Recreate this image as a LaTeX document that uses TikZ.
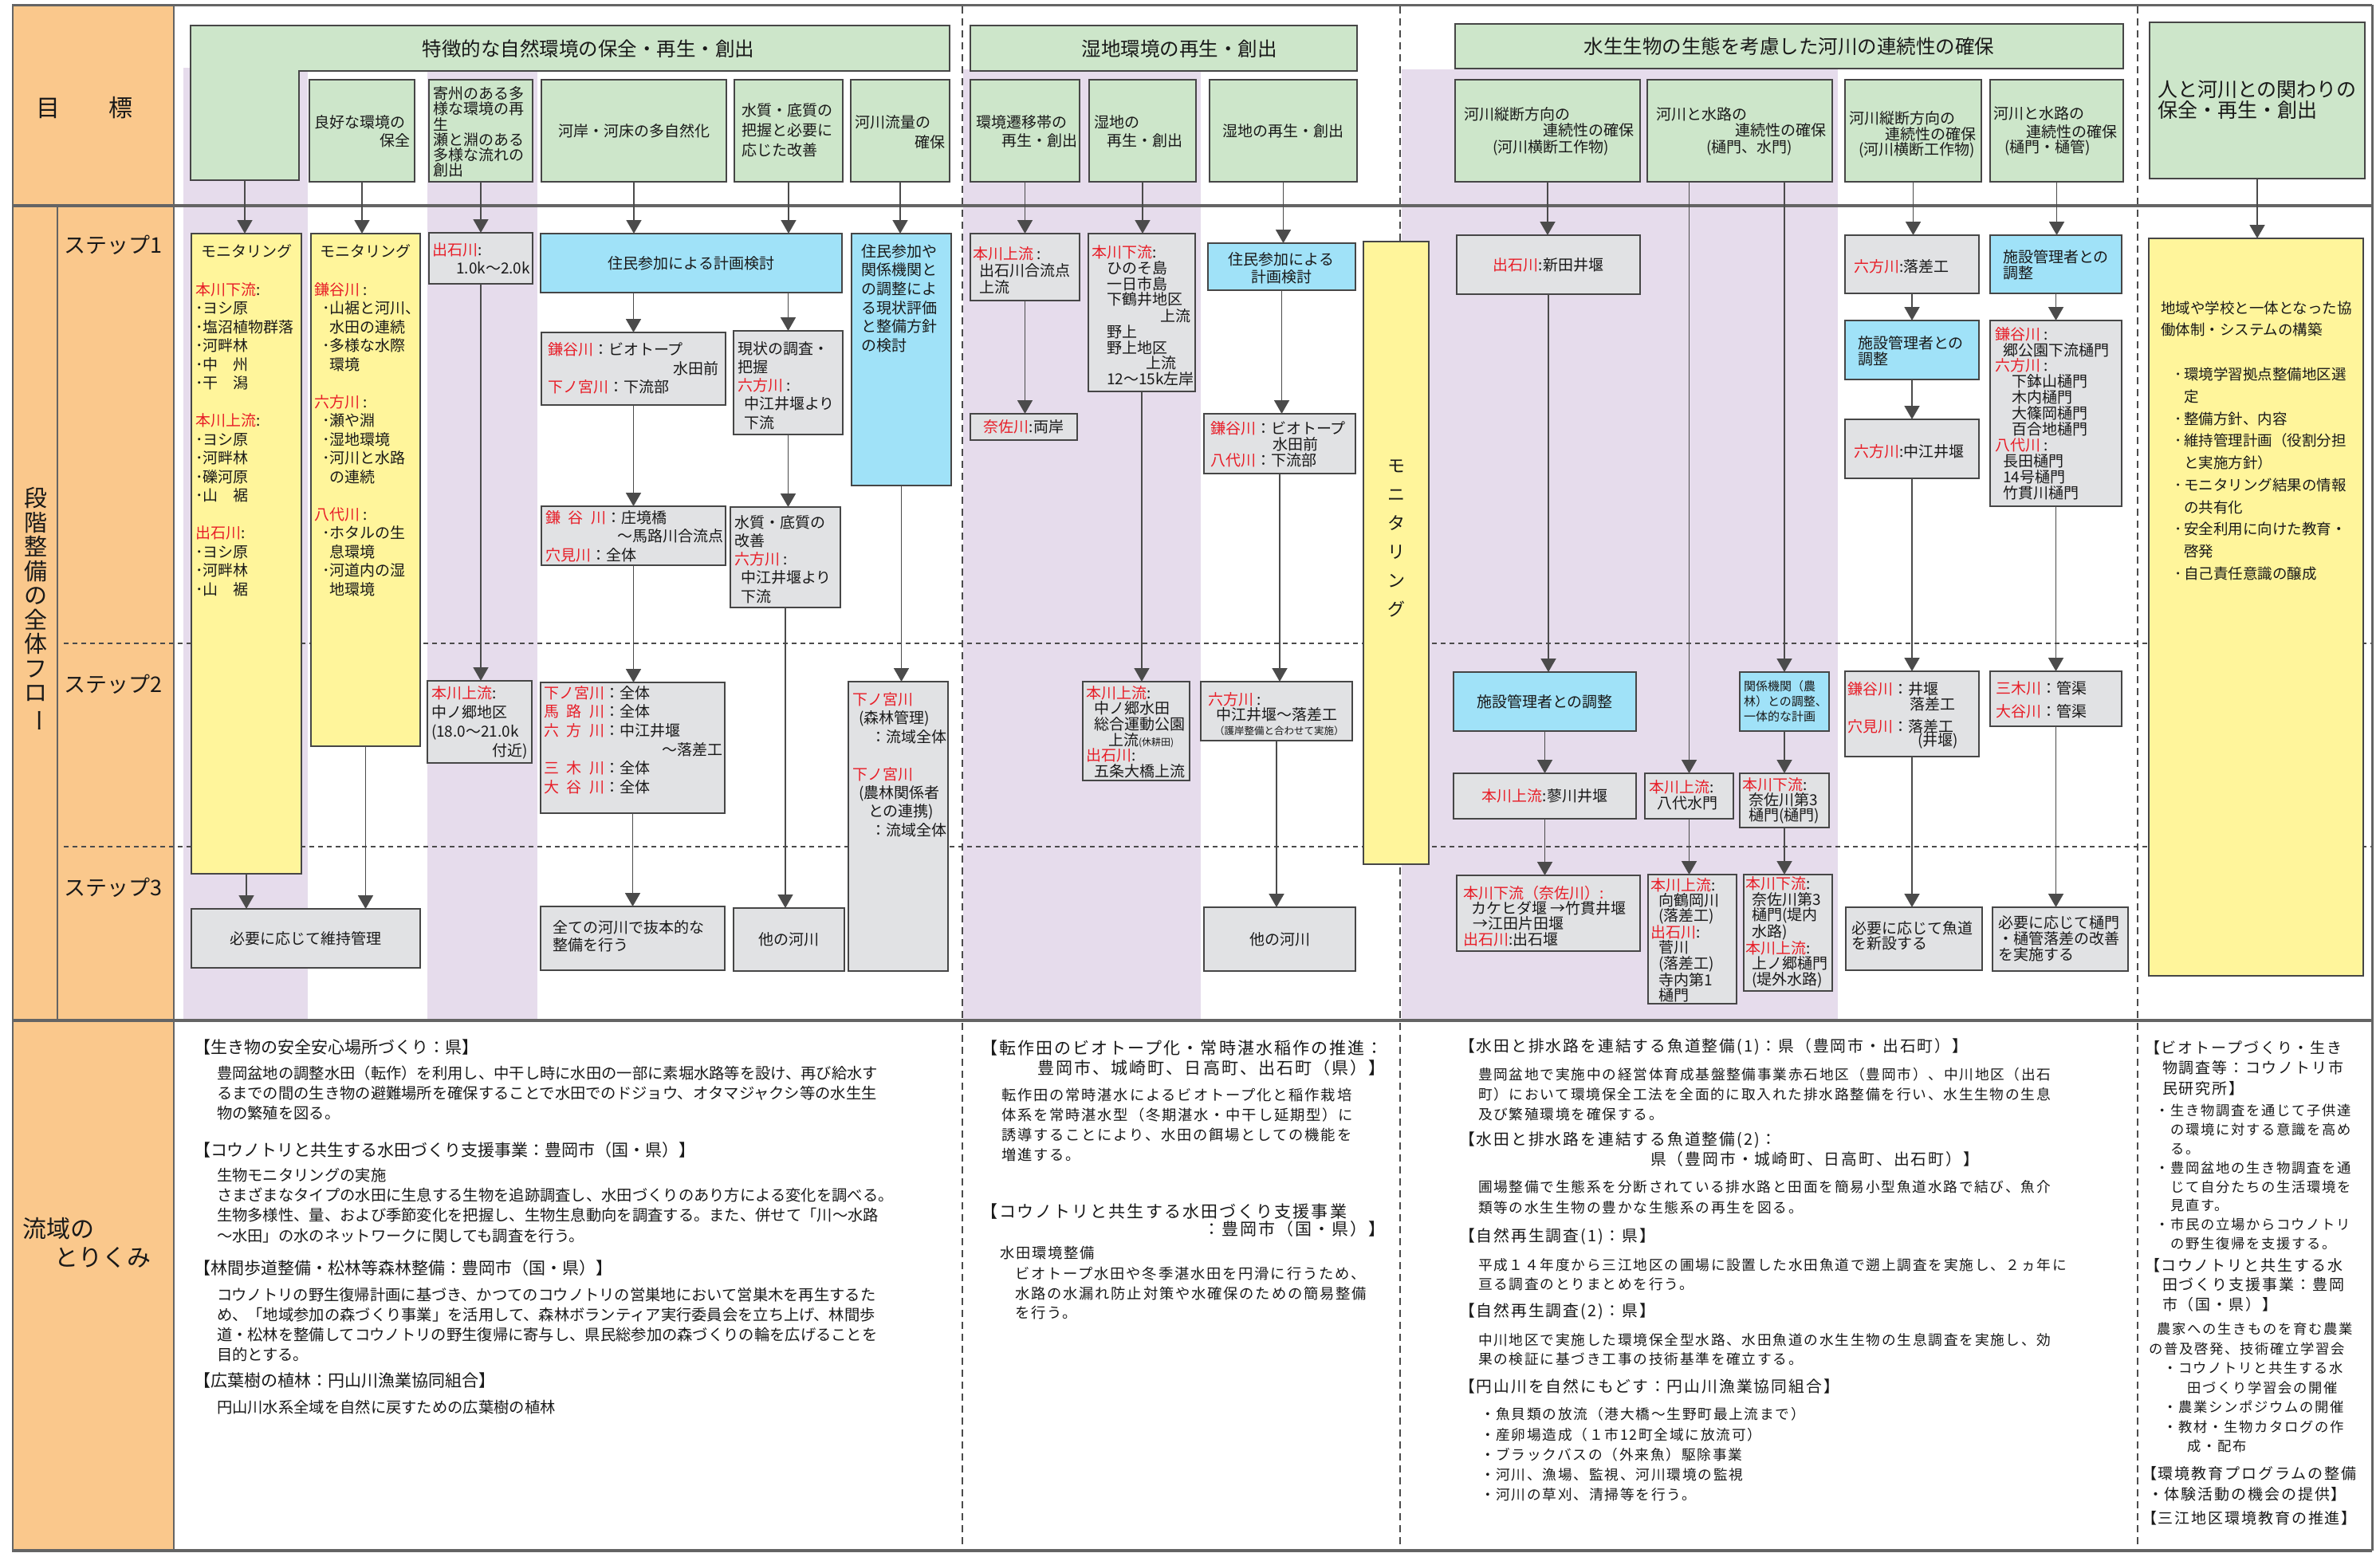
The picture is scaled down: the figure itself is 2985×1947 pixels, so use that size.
\documentclass[tikz,border=0pt]{standalone}
\usepackage{fontspec}
\usepackage{graphicx}
\setmainfont{Noto Sans CJK JP}
\newfontfamily\cjksp[LetterSpace=10]{Noto Sans CJK JP}
\usetikzlibrary{arrows.meta}
\definecolor{cOr}{RGB}{250,200,140}
\definecolor{cGr}{RGB}{205,230,202}
\definecolor{cLv}{RGB}{230,220,236}
\definecolor{cGy}{RGB}{225,226,228}
\definecolor{cBl}{RGB}{160,226,248}
\definecolor{cYe}{RGB}{255,245,155}
\definecolor{cRd}{RGB}{232,30,40}
\definecolor{cAr}{RGB}{75,75,75}
\definecolor{cFr}{RGB}{100,100,100}
\definecolor{cLn}{RGB}{70,70,70}
\definecolor{cTx}{RGB}{25,25,25}
\newcommand\fs[2]{\fontsize{#1}{#2}\selectfont}
\newcommand\R[1]{\textcolor{cRd}{#1}}
\newcommand\SP[2]{\makebox[#1][s]{#2}}
\newcommand\B[7]{\node[#1,minimum width={#5-#3},minimum height={#6-#4}] (#2) at ({(#3+#5)/2},{(#4+#6)/2}) {#7};}
\newcommand\TL[5]{\node[txt,anchor=west,align=left,font=#4] (#1) at (#2,#3) {#5};}
\newcommand\TR[5]{\node[txt,anchor=east,align=right,font=#4] (#1) at (#2,#3) {#5};}
\newcommand\TC[5]{\node[txt,align=center,font=#4] (#1) at (#2,#3) {#5};}
\begin{document}
\begin{tikzpicture}[x=1pt,y=-1pt,
  txt/.style={inner sep=0pt,outer sep=0pt,text=cTx},
  box/.style={draw=cLn,line width=1.8pt,inner sep=0pt,outer sep=0pt,text=cTx,align=center,font=\fs{19}{23}},
  gbox/.style={box,fill=cGy},
  bbox/.style={box,fill=cBl},
  ybox/.style={box,fill=cYe},
  hbox/.style={box,fill=cGr},
  conn/.style={draw=cAr,line width=1.8pt,-{Triangle[width=19pt,length=17pt]}},
  sep/.style={draw=cFr,line width=3.5pt},
  dashv/.style={draw=cAr,line width=2pt,dash pattern=on 9pt off 6pt},
  doth/.style={draw=cAr,line width=2.5pt,dash pattern=on 6pt off 5pt}]
\fill[white] (0,0) rectangle (2985,1947);
\useasboundingbox (0,0) rectangle (2985,1947);
% backgrounds
\fill[cOr] (17,8) rectangle (218,1945);
\fill[cLv] (230,85) rectangle (386,1280);
\fill[cLv] (536,89) rectangle (674,1280);
\fill[cLv] (1208,87) rectangle (1506,1280);
\fill[cLv] (1758,87) rectangle (2305,1280);
% separators
\draw[doth] (80,807) -- (2975,807);
\draw[doth] (80,1062) -- (2975,1062);
\draw[dashv] (1207,8) -- (1207,1945);
\draw[dashv] (1756,8) -- (1756,1945);
\draw[dashv] (2681,8) -- (2681,1945);
\draw[sep] (15,6.5) -- (2975,6.5);
\draw[sep] (15,258) -- (2975,258);
\draw[sep] (15,1280) -- (2975,1280);
\draw[sep] (15,1945) -- (2975,1945);
\draw[cFr,line width=2.5pt] (16,6) -- (16,1945);
\draw[cFr,line width=3pt] (2975,6) -- (2975,1945);
\draw[cFr,line width=2pt] (218,6) -- (218,1945);
\draw[cFr,line width=2pt] (72,258) -- (72,1280);
% left labels
\node[txt,font=\fs{30}{34}] (mokuhyo) at (106,135) {目\hspace{61pt}標};
\node[txt,anchor=west,font=\fs{27}{30}] (st1) at (80,307) {ステップ1};
\node[txt,anchor=west,font=\fs{27}{30}] (st2) at (80,858) {ステップ2};
\node[txt,anchor=west,font=\fs{27}{30}] (st3) at (80,1113) {ステップ3};
\node[txt,align=center,font=\fs{29}{30.5}] (vflow) at (45,765) {段\\階\\整\\備\\の\\全\\体\\フ\\ロ\\\rotatebox[origin=c]{-90}{ー}};
\node[txt,font=\fs{30}{34}] (ryu1) at (73,1541) {流域の};
\node[txt,font=\fs{30}{34}] (ryu2) at (129,1577) {とりくみ};
% ===== header =====
\draw[fill=cGr,draw=cLn,line width=1.8pt] (239,32) -- (1191,32) -- (1191,89) -- (375,89) -- (375,226) -- (239,226) -- cycle;
\node[txt,font=\fs{24.5}{28}] (hLt) at (738,61) {特徴的な自然環境の保全・再生・創出};
\node[inner sep=0pt,outer sep=0pt,minimum width=136,minimum height=137] (hleg) at (307,157.5) {};
\B{hbox}{h1}{388}{100}{520}{228}{}
\TL{h1a}{394}{153}{\fs{19}{23}}{良好な環境の}
\TR{h1b}{514}{176}{\fs{19}{23}}{保全}
\B{hbox}{h2}{538}{100}{668}{228}{}
\TL{h2a}{543}{165.5}{\fs{19}{19.2}}{寄州のある多\\様な環境の再\\生\\瀬と淵のある\\多様な流れの\\創出}
\B{hbox}{h3}{679}{100}{911}{228}{河岸・河床の多自然化}
\B{hbox}{h4}{921}{100}{1057}{228}{}
\TL{h4a}{930}{163}{\fs{19}{25}}{水質・底質の\\把握と必要に\\応じた改善}
\B{hbox}{h5}{1067}{100}{1191}{228}{}
\TL{h5a}{1072}{153}{\fs{19}{23}}{河川流量の}
\TR{h5b}{1185}{178}{\fs{19}{23}}{確保}
\B{hbox}{hW}{1217}{32}{1702}{89}{}
\node[txt,font=\fs{24.5}{28}] (hWt) at (1479,61) {湿地環境の再生・創出};
\B{hbox}{h6}{1217}{100}{1354}{228}{}
\TL{h6a}{1224}{153}{\fs{19}{23}}{環境遷移帯の}
\TR{h6b}{1351}{176}{\fs{19}{23}}{再生・創出}
\B{hbox}{h7}{1366}{100}{1500}{228}{}
\TL{h7a}{1372}{153}{\fs{19}{23}}{湿地の}
\TL{h7b}{1388}{176}{\fs{19}{23}}{再生・創出}
\B{hbox}{h8}{1517}{100}{1702}{228}{湿地の再生・創出}
\B{hbox}{hA}{1825}{30}{2663}{86}{\fs{24.5}{28}水生生物の生態を考慮した河川の連続性の確保}
\B{hbox}{h9}{1825}{100}{2057}{228}{}
\TL{h9a}{1836}{143}{\fs{19}{23}}{河川縦断方向の}
\TR{h9b}{2049}{163}{\fs{19}{23}}{連続性の確保}
\TC{h9c}{1945}{185}{\fs{19}{23}}{(河川横断工作物)}
\B{hbox}{h10}{2066}{100}{2298}{228}{}
\TL{h10a}{2077}{143}{\fs{19}{23}}{河川と水路の}
\TR{h10b}{2290}{163}{\fs{19}{23}}{連続性の確保}
\TC{h10c}{2194}{185}{\fs{19}{23}}{(樋門、水門)}
\B{hbox}{h11}{2314}{100}{2485}{228}{}
\TL{h11a}{2319}{148}{\fs{19}{23}}{河川縦断方向の}
\TR{h11b}{2478}{168}{\fs{19}{23}}{連続性の確保}
\TC{h11c}{2404}{188}{\fs{19}{23}}{(河川横断工作物)}
\B{hbox}{h12}{2496}{100}{2663}{228}{}
\TL{h12a}{2500}{142}{\fs{19}{23}}{河川と水路の}
\TR{h12b}{2655}{165}{\fs{19}{23}}{連続性の確保}
\TC{h12c}{2568}{185}{\fs{19}{23}}{(樋門・樋管)}
\B{hbox}{h13}{2696}{28}{2966}{224}{}
\TL{h13a}{2706}{125}{\fs{25}{26}}{人と河川との関わりの\\保全・再生・創出}
% ===== step boxes =====
\B{ybox}{y1}{240}{293}{378}{1096}{}
\TC{y1t}{309}{315}{\fs{19}{23}}{モニタリング}
\TL{y1a}{245}{551}{\fs{19}{23.5}}{\R{本川下流}:\\･ヨシ原\\･塩沼植物群落\\･河畔林\\･中　州\\･干　潟\\[23.5pt]\R{本川上流}:\\･ヨシ原\\･河畔林\\･礫河原\\･山　裾\\[23.5pt]\R{出石川}:\\･ヨシ原\\･河畔林\\･山　裾}
\B{ybox}{y2}{390}{293}{527}{936}{}
\TC{y2t}{458}{315}{\fs{19}{23}}{モニタリング}
\TL{y2a}{394}{551}{\fs{19}{23.5}}{\R{鎌谷川} :\\\hspace*{10pt}･山裾と河川、\\\hspace*{19.5pt}水田の連続\\\hspace*{10pt}･多様な水際\\\hspace*{19.5pt}環境\\[23.5pt]\R{六方川} :\\\hspace*{10pt}･瀬や淵\\\hspace*{10pt}･湿地環境\\\hspace*{10pt}･河川と水路\\\hspace*{19.5pt}の連続\\[23.5pt]\R{八代川} :\\\hspace*{10pt}･ホタルの生\\\hspace*{19.5pt}息環境\\\hspace*{10pt}･河道内の湿\\\hspace*{19.5pt}地環境}
\B{gbox}{s1c}{538}{292}{668}{356}{}
\TL{s1ca}{542}{313}{\fs{19}{23}}{\R{出石川}:}
\TR{s1cb}{665}{336}{\fs{19}{23}}{1.0k～2.0k}
\B{bbox}{s1b}{678}{293}{1056}{367}{住民参加による計画検討}
\B{bbox}{s1d}{1068}{293}{1193}{609}{}
\TL{s1da}{1080}{374}{\fs{19}{23.6}}{住民参加や\\関係機関と\\の調整によ\\る現状評価\\と整備方針\\の検討}
\B{gbox}{s1e}{679}{417}{910}{508}{}
\TL{s1ea}{687}{438}{\fs{19}{23}}{\R{鎌谷川}：ビオトープ}
\TR{s1eb}{901}{462}{\fs{19}{23}}{水田前}
\TL{s1ec}{687}{485}{\fs{19}{23}}{\R{下ノ宮川}：下流部}
\B{gbox}{s1f}{920}{415}{1057}{545}{}
\TL{s1fa}{925}{483.5}{\fs{19}{23.25}}{現状の調査・\\把握\\\R{六方川} :\\\hspace*{8pt}中江井堰より\\\hspace*{8pt}下流}
\B{gbox}{s1g}{679}{635}{910}{709}{}
\TL{s1ga}{684}{649}{\fs{19}{23}}{\R{\SP{76pt}{鎌\hfill 谷\hfill 川}}：庄境橋}
\TR{s1gb}{907}{672}{\fs{19}{23}}{～馬路川合流点}
\TL{s1gc}{684}{696}{\fs{19}{23}}{\R{穴見川}：全体}
\B{gbox}{s1h}{916}{636}{1054}{762}{}
\TL{s1ha}{921}{701.5}{\fs{19}{23.25}}{水質・底質の\\改善\\\R{六方川} :\\\hspace*{8pt}中江井堰より\\\hspace*{8pt}下流}
\B{gbox}{w1}{1217}{293}{1354}{377}{}
\TL{w1a}{1220}{339}{\fs{19}{21}}{\R{本川上流} :\\\hspace*{8pt}出石川合流点\\\hspace*{8pt}上流}
\B{gbox}{w4}{1217}{519}{1351}{552}{\R{奈佐川}:両岸}
\B{gbox}{w2}{1365}{293}{1499}{491}{}
\TL{w2a}{1369}{346}{\fs{19}{19.9}}{\R{本川下流}:\\\hspace*{19pt}ひのそ島\\\hspace*{19pt}一日市島\\\hspace*{19pt}下鶴井地区}
\TR{w2b}{1493}{396}{\fs{19}{19.9}}{上流}
\TL{w2c}{1388}{426}{\fs{19}{19.9}}{野上\\野上地区}
\TR{w2d}{1475}{455}{\fs{19}{19.9}}{上流}
\TL{w2e}{1388}{475}{\fs{19}{19.9}}{12～15k左岸}
\B{bbox}{w3}{1515}{305}{1700}{364}{}
\TC{w3a}{1607}{336}{\fs{19}{22}}{住民参加による\\計画検討}
\B{gbox}{w5}{1510}{519}{1700}{594}{}
\TL{w5a}{1518}{537}{\fs{19}{23}}{\R{鎌谷川}：ビオトープ}
\TL{w5b}{1596}{557}{\fs{19}{23}}{水田前}
\TL{w5c}{1518}{577}{\fs{19}{23}}{\R{八代川}：下流部}
\B{ybox}{mon}{1710}{303}{1792}{1084}{}
\TC{mont}{1751}{675}{\fs{22}{36}}{モ\\ニ\\タ\\リ\\ン\\グ}
\B{gbox}{r1}{1827}{295}{2057}{369}{\R{出石川}:新田井堰}
\B{gbox}{r2}{2314}{295}{2482}{368}{}
\TL{r2a}{2325}{334}{\fs{19}{23}}{\R{六方川}:落差工}
\B{bbox}{r3}{2496}{295}{2661}{368}{}
\TL{r3a}{2512}{332}{\fs{19}{20}}{施設管理者との\\調整}
\B{bbox}{r4}{2314}{402}{2482}{476}{}
\TL{r4a}{2330}{440}{\fs{19}{20}}{施設管理者との\\調整}
\B{gbox}{r5}{2314}{526}{2482}{600}{}
\TL{r5a}{2325}{566}{\fs{19}{23}}{\R{六方川}:中江井堰}
\B{gbox}{r6}{2496}{402}{2661}{635}{}
\TL{r6a}{2502}{518.5}{\fs{19}{19.9}}{\R{鎌谷川} :\\\hspace*{10pt}郷公園下流樋門\\\R{六方川} :\\\hspace*{21pt}下鉢山樋門\\\hspace*{21pt}木内樋門\\\hspace*{21pt}大篠岡樋門\\\hspace*{21pt}百合地樋門\\\R{八代川} :\\\hspace*{10pt}長田樋門\\\hspace*{10pt}14号樋門\\\hspace*{10pt}竹貫川樋門}
\B{ybox}{yR}{2695}{299}{2964}{1224}{}
\TL{yRa}{2710}{399.5}{\fs{18.5}{27}}{地域や学校と一体となった協\\働体制・システムの構築}
\TL{yRb}{2727}{594.5}{\fs{18.5}{27.7}}{･\hspace{3pt}環境学習拠点整備地区選\\\hspace*{12pt}定\\･\hspace{3pt}整備方針、内容\\･\hspace{3pt}維持管理計画（役割分担\\\hspace*{12pt}と実施方針）\\･\hspace{3pt}モニタリング結果の情報\\\hspace*{12pt}の共有化\\･\hspace{3pt}安全利用に向けた教育・\\\hspace*{12pt}啓発\\･\hspace{3pt}自己責任意識の醸成}
% step 2
\B{gbox}{s2a}{536}{854}{667}{957}{}
\TL{s2aa}{541}{894}{\fs{19}{24}}{\R{本川上流}:\\中ノ郷地区\\(18.0～21.0k}
\TR{s2ab}{662}{942}{\fs{19}{24}}{付近)}
\B{gbox}{s2b}{678}{856}{909}{1020}{}
\TL{s2ba}{682}{892.5}{\fs{19}{23.5}}{\R{下ノ宮川}：全体\\\R{\SP{76pt}{馬\hfill 路\hfill 川}}：全体\\\R{\SP{76pt}{六\hfill 方\hfill 川}}：中江井堰}
\TR{s2bb}{906}{940}{\fs{19}{23}}{～落差工}
\TL{s2bc}{682}{975}{\fs{19}{24}}{\R{\SP{76pt}{三\hfill 木\hfill 川}}：全体\\\R{\SP{76pt}{大\hfill 谷\hfill 川}}：全体}
\B{gbox}{s2c}{1064}{855}{1189}{1218}{}
\TL{s2ca}{1069}{900.5}{\fs{19}{23.5}}{\R{下ノ宮川}\\\hspace*{8pt}(森林管理)\\\hspace*{23pt}：流域全体}
\TL{s2cb}{1069}{1006}{\fs{19}{23.3}}{\R{下ノ宮川}\\\hspace*{8pt}(農林関係者\\\hspace*{20pt}との連携)\\\hspace*{23pt}：流域全体}
\B{gbox}{s2d}{1358}{855}{1492}{979}{}
\TL{s2da}{1362}{918}{\fs{19}{19.6}}{\R{本川上流}:\\\hspace*{10pt}中ノ郷水田\\\hspace*{10pt}総合運動公園\\\hspace*{28pt}上流{\fs{12}{12}(休耕田)}\\\R{出石川}:\\\hspace*{10pt}五条大橋上流}
\B{gbox}{s2e}{1506}{855}{1696}{929}{}
\TL{s2ea}{1515}{877}{\fs{19}{20}}{\R{六方川} :}
\TL{s2eb}{1525}{896}{\fs{19}{20}}{中江井堰～落差工}
\TL{s2ec}{1523}{917}{\fs{12.5}{14}}{（護岸整備と合わせて実施）}
\B{bbox}{s2f}{1823}{843}{2052}{917}{施設管理者との調整}
\B{gbox}{s2g}{1823}{970}{2052}{1027}{\R{本川上流}:蓼川井堰}
\B{bbox}{s2i}{2182}{843}{2294}{917}{}
\TL{s2ia}{2187}{880}{\fs{15}{19}}{関係機関（農\\林）との調整、\\一体的な計画}
\B{gbox}{s2h}{2063}{970}{2174}{1027}{}
\TL{s2ha}{2068}{997}{\fs{19}{20}}{\R{本川上流}:\\\hspace*{10pt}八代水門}
\B{gbox}{s2j}{2182}{970}{2294}{1038}{}
\TL{s2ja}{2185}{1004}{\fs{19}{19}}{\R{本川下流}:\\\hspace*{8pt}奈佐川第3\\\hspace*{8pt}樋門(樋門)}
\B{gbox}{s2k}{2314}{842}{2482}{949}{}
\TL{s2ka}{2317}{864}{\fs{19}{23}}{\R{鎌谷川}：井堰}
\TL{s2kb}{2395}{883}{\fs{19}{23}}{落差工}
\TL{s2kc}{2317}{911}{\fs{19}{23}}{\R{穴見川}：落差工}
\TL{s2kd}{2405}{929}{\fs{19}{23}}{(井堰)}
\B{gbox}{s2l}{2496}{842}{2661}{911}{}
\TL{s2la}{2503}{877.5}{\fs{19}{29}}{\R{三木川}：管渠\\\R{大谷川}：管渠}
% step 3
\B{gbox}{p1}{240}{1140}{527}{1214}{必要に応じて維持管理}
\B{gbox}{p2}{678}{1137}{909}{1217}{}
\TL{p2a}{693}{1174}{\fs{19}{22}}{全ての河川で抜本的な\\整備を行う}
\B{gbox}{p3}{920}{1139}{1059}{1218}{他の河川}
\B{gbox}{p4}{1510}{1138}{1700}{1218}{他の河川}
\B{gbox}{p5}{1827}{1098}{2057}{1193}{}
\TL{p5a}{1835}{1149}{\fs{19}{19.3}}{\R{本川下流（奈佐川）:}\\\hspace*{10pt}カケヒダ堰 →竹貫井堰\\\hspace*{12pt}→江田片田堰\\\R{出石川}:出石堰}
\B{gbox}{p6}{2067}{1097}{2178}{1259}{}
\TL{p6a}{2070}{1179}{\fs{19}{19.4}}{\R{本川上流}:\\\hspace*{10pt}向鶴岡川\\\hspace*{10pt}(落差工)\\\R{出石川}:\\\hspace*{10pt}菅川\\\hspace*{10pt}(落差工)\\\hspace*{10pt}寺内第1\\\hspace*{10pt}樋門}
\B{gbox}{p7}{2187}{1097}{2298}{1243}{}
\TL{p7a}{2189}{1169.5}{\fs{19}{19.5}}{\R{本川下流}:\\\hspace*{8pt}奈佐川第3\\\hspace*{8pt}樋門(堤内\\\hspace*{8pt}水路)\\\R{本川上流}:\\\hspace*{8pt}上ノ郷樋門\\\hspace*{8pt}(堤外水路)}
\B{gbox}{p8}{2315}{1138}{2486}{1217}{}
\TL{p8a}{2322}{1174}{\fs{19}{18.5}}{必要に応じて魚道\\を新設する}
\B{gbox}{p9}{2499}{1138}{2669}{1218}{}
\TL{p9a}{2506}{1177}{\fs{19}{20}}{必要に応じて樋門\\・樋管落差の改善\\を実施する}
% ===== connectors =====
\draw[conn] (hleg.south) -- (hleg.south |- y1.north);
\draw[conn] (h1.south) -- (h1.south |- y2.north);
\draw[conn] (h2.south) -- (h2.south |- s1c.north);
\draw[conn] (h3.south) -- (h3.south |- s1b.north);
\draw[conn] (h4.south) -- (h4.south |- s1b.north);
\draw[conn] (h5.south) -- (h5.south |- s1d.north);
\draw[conn] (h6.south) -- (h6.south |- w1.north);
\draw[conn] (h7.south) -- (h7.south |- w2.north);
\draw[conn] (h8.south) -- (h8.south |- w3.north);
\draw[conn] (h9.south) -- (h9.south |- r1.north);
\draw[conn] (s2h.north |- h10.south) -- (s2h.north);
\draw[conn] (s2i.north |- h10.south) -- (s2i.north);
\draw[conn] (h11.south) -- (h11.south |- r2.north);
\draw[conn] (h12.south) -- (h12.south |- r3.north);
\draw[conn] (h13.south) -- (h13.south |- yR.north);
\draw[conn] (y1.south) -- (y1.south |- p1.north);
\draw[conn] (y2.south) -- (y2.south |- p1.north);
\draw[conn] (s1c.south) -- (s1c.south |- s2a.north);
\draw[conn] (s1e.north |- s1b.south) -- (s1e.north);
\draw[conn] (s1f.north |- s1b.south) -- (s1f.north);
\draw[conn] (s1e.south) -- (s1g.north);
\draw[conn] (s1f.south) -- (s1f.south |- s1h.north);
\draw[conn] (s1g.south) -- (s1g.south |- s2b.north);
\draw[conn] (s2b.south) -- (p2.north);
\draw[conn] (s1h.south) -- (s1h.south |- p3.north);
\draw[conn] (s1d.south) -- (s1d.south |- s2c.north);
\draw[conn] (w1.south) -- (w1.south |- w4.north);
\draw[conn] (w2.south) -- (w2.south |- s2d.north);
\draw[conn] (w3.south) -- (w3.south |- w5.north);
\draw[conn] (w5.south) -- (w5.south |- s2e.north);
\draw[conn] (s2e.south) -- (s2e.south |- p4.north);
\draw[conn] (r1.south) -- (r1.south |- s2f.north);
\draw[conn] (s2f.south) -- (s2g.north);
\draw[conn] (s2g.south) -- (s2g.south |- p5.north);
\draw[conn] (s2h.south) -- (s2h.south |- p6.north);
\draw[conn] (s2i.south) -- (s2j.north);
\draw[conn] (s2j.south) -- (s2j.south |- p7.north);
\draw[conn] (r2.south) -- (r2.south |- r4.north);
\draw[conn] (r4.south) -- (r4.south |- r5.north);
\draw[conn] (r5.south) -- (r5.south |- s2k.north);
\draw[conn] (s2k.south) -- (s2k.south |- p8.north);
\draw[conn] (r3.south) -- (r3.south |- r6.north);
\draw[conn] (r6.south) -- (r6.south |- s2l.north);
\draw[conn] (s2l.south) -- (s2l.south |- p9.north);
% ===== bottom section =====
\TL{b1}{243}{1313}{\fs{21}{25}}{【生き物の安全安心場所づくり：県】}
\TL{b2}{272}{1371}{\fs{19.3}{25}}{豊岡盆地の調整水田（転作）を利用し、中干し時に水田の一部に素堀水路等を設け、再び給水す\\るまでの間の生き物の避難場所を確保することで水田でのドジョウ、オタマジャクシ等の水生生\\物の繁殖を図る。}
\TL{b3}{243}{1442}{\fs{21}{25}}{【コウノトリと共生する水田づくり支援事業：豊岡市（国・県）】}
\TL{b4}{272}{1512}{\fs{19.3}{25.3}}{生物モニタリングの実施\\さまざまなタイプの水田に生息する生物を追跡調査し、水田づくりのあり方による変化を調べる。\\生物多様性、量、および季節変化を把握し、生物生息動向を調査する。また、併せて「川～水路\\～水田」の水のネットワークに関しても調査を行う。}
\TL{b5}{243}{1590}{\fs{21}{25}}{【林間歩道整備・松林等森林整備：豊岡市（国・県）】}
\TL{b6}{272}{1661.5}{\fs{19.3}{25}}{コウノトリの野生復帰計画に基づき、かつてのコウノトリの営巣地において営巣木を再生するた\\め、「地域参加の森づくり事業」を活用して、森林ボランティア実行委員会を立ち上げ、林間歩\\道・松林を整備してコウノトリの野生復帰に寄与し、県民総参加の森づくりの輪を広げることを\\目的とする。}
\TL{b7}{243}{1732}{\fs{21}{25}}{【広葉樹の植林：円山川漁業協同組合】}
\TL{b8}{272}{1765}{\fs{19.3}{25}}{円山川水系全域を自然に戻すための広葉樹の植林}
\TL{c1}{1230}{1314}{\cjksp\fs{21}{25}}{【転作田のビオトープ化・常時湛水稲作の推進：}
\TR{c2}{1738}{1339}{\cjksp\fs{21}{25}}{豊岡市、城崎町、日高町、出石町（県）】}
\TL{c3}{1256}{1411}{\cjksp\fs{18.3}{25.3}}{転作田の常時湛水によるビオトープ化と稲作栽培\\体系を常時湛水型（冬期湛水・中干し延期型）に\\誘導することにより、水田の餌場としての機能を\\増進する。}
\TL{c4}{1230}{1519}{\cjksp\fs{21}{25}}{【コウノトリと共生する水田づくり支援事業}
\TR{c5}{1738}{1541}{\cjksp\fs{21}{25}}{：豊岡市（国・県）】}
\TL{c6}{1254}{1572}{\cjksp\fs{18.3}{25}}{水田環境整備}
\TL{c7}{1273}{1622.5}{\cjksp\fs{18.3}{24.5}}{ビオトープ水田や冬季湛水田を円滑に行うため、\\水路の水漏れ防止対策や水確保のための簡易整備\\を行う。}
\TL{d1}{1830}{1313}{\cjksp\fs{19.8}{25}}{【水田と排水路を連結する魚道整備(1)：県（豊岡市・出石町）】}
\TL{d2}{1854}{1373}{\cjksp\fs{17.7}{25}}{豊岡盆地で実施中の経営体育成基盤整備事業赤石地区（豊岡市）、中川地区（出石\\町）において環境保全工法を全面的に取入れた排水路整備を行い、水生生物の生息\\及び繁殖環境を確保する。}
\TL{d3}{1830}{1430}{\cjksp\fs{19.8}{25}}{【水田と排水路を連結する魚道整備(2)：}
\TR{d4}{2482}{1454}{\cjksp\fs{19.8}{25}}{県（豊岡市・城崎町、日高町、出石町）】}
\TL{d5}{1854}{1502}{\cjksp\fs{17.7}{26}}{圃場整備で生態系を分断されている排水路と田面を簡易小型魚道水路で結び、魚介\\類等の水生生物の豊かな生態系の再生を図る。}
\TL{d6}{1830}{1551}{\cjksp\fs{19.8}{25}}{【自然再生調査(1)：県】}
\TL{d7}{1854}{1599}{\cjksp\fs{17.7}{24}}{平成１４年度から三江地区の圃場に設置した水田魚道で遡上調査を実施し、２ヵ年に\\亘る調査のとりまとめを行う。}
\TL{d8}{1830}{1645}{\cjksp\fs{19.8}{25}}{【自然再生調査(2)：県】}
\TL{d9}{1854}{1693}{\cjksp\fs{17.7}{24}}{中川地区で実施した環境保全型水路、水田魚道の水生生物の生息調査を実施し、効\\果の検証に基づき工事の技術基準を確立する。}
\TL{d10}{1830}{1739}{\cjksp\fs{19.8}{25}}{【円山川を自然にもどす：円山川漁業協同組合】}
\TL{d11}{1857}{1824.5}{\cjksp\fs{17.7}{25.25}}{・魚貝類の放流（港大橋～生野町最上流まで）\\・産卵場造成（１市12町全域に放流可）\\・ブラックバスの（外来魚）駆除事業\\・河川、漁場、監視、河川環境の監視\\・河川の草刈、清掃等を行う。}
\TL{e1}{2690}{1339.5}{\cjksp\fs{19}{25.5}}{【ビオトープづくり・生き\\\hspace*{22pt}物調査等：コウノトリ市\\\hspace*{22pt}民研究所】}
\TL{e2}{2703}{1476.5}{\cjksp\fs{17.3}{23.9}}{・生き物調査を通じて子供達\\\hspace*{19pt}の環境に対する意識を高め\\\hspace*{19pt}る。\\・豊岡盆地の生き物調査を通\\\hspace*{19pt}じて自分たちの生活環境を\\\hspace*{19pt}見直す。\\・市民の立場からコウノトリ\\\hspace*{19pt}の野生復帰を支援する。}
\TL{e3}{2690}{1611.5}{\cjksp\fs{19}{24.5}}{【コウノトリと共生する水\\\hspace*{22pt}田づくり支援事業：豊岡\\\hspace*{22pt}市（国・県）】}
\TL{e4}{2695}{1740.5}{\cjksp\fs{17.3}{24.5}}{\hspace*{10pt}農家への生きものを育む農業\\の普及啓発、技術確立学習会\\\hspace*{18pt}・コウノトリと共生する水\\\hspace*{48pt}田づくり学習会の開催\\\hspace*{18pt}・農業シンポジウムの開催\\\hspace*{18pt}・教材・生物カタログの作\\\hspace*{48pt}成・配布}
\TL{e5}{2686}{1861}{\cjksp\fs{19}{26}}{【環境教育プログラムの整備\\\hspace*{8pt}・体験活動の機会の提供】}
\TL{e6}{2686}{1904}{\cjksp\fs{19}{26}}{【三江地区環境教育の推進】}
\end{tikzpicture}
\end{document}
